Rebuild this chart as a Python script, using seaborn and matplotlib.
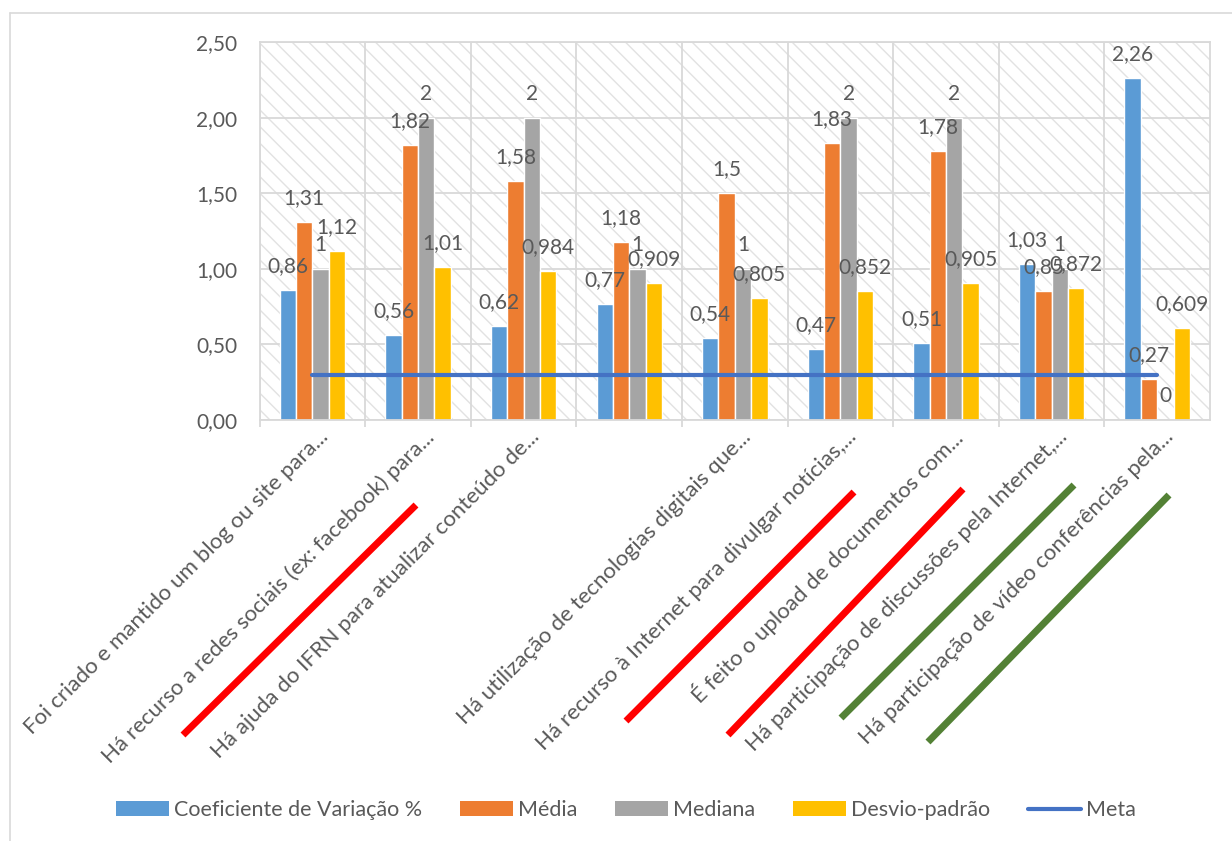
import numpy as np
import pandas as pd
import matplotlib
matplotlib.use("Agg")
import matplotlib.pyplot as plt
import matplotlib.transforms as mtransforms
from matplotlib.lines import Line2D
from matplotlib.patches import Rectangle, Patch
from matplotlib.ticker import FuncFormatter
import seaborn as sns

# ---- data -------------------------------------------------------------
questions = [
    "Foi criado e mantido um blog ou site para...",
    "Há recurso a redes sociais (ex: facebook) para...",
    "Há ajuda do IFRN para atualizar conteúdo de...",
    "",
    "Há utilização de tecnologias digitais que...",
    "Há recurso à Internet para divulgar notícias,...",
    "É feito o upload de documentos com...",
    "Há participação de discussões pela Internet,...",
    "Há participação de vídeo conferências pela...",
]
series = ["Coeficiente de Variação %", "Média", "Mediana", "Desvio-padrão"]

coef_variacao = [0.86, 0.56, 0.62, 0.77, 0.54, 0.47, 0.51, 1.03, 2.26]
media = [1.31, 1.82, 1.58, 1.18, 1.5, 1.83, 1.78, 0.85, 0.27]
mediana = [1, 2, 2, 1, 1, 2, 2, 1, 0]
desvio_padrao = [1.12, 1.01, 0.984, 0.909, 0.805, 0.852, 0.905, 0.872, 0.609]
meta = [0.3] * 9

y_ticks = [0.0, 0.5, 1.0, 1.5, 2.0, 2.5]

# ---- style ------------------------------------------------------------
bar_colors = ["#5B9BD5", "#ED7D31", "#A5A5A5", "#FFC000"]
meta_color = "#4472C4"
text_color = "#595959"
grid_color = "#D9D9D9"

sns.set_theme(style="white")
plt.rcParams["font.family"] = ["Lato", "DejaVu Sans"]
plt.rcParams["hatch.linewidth"] = 1.0

W, H = 1232, 841
fig = plt.figure(figsize=(W / 100, H / 100), dpi=100)
ax = fig.add_axes([259.7 / W, 1 - 420 / H, (1210 - 259.7) / W, (420 - 42) / H])

# hatched plot-area background
ax.set_facecolor("white")
ax.add_patch(Rectangle((0, 0), 1, 1, transform=ax.transAxes, facecolor="white",
                       edgecolor="#E2E2E2", hatch="\\\\", lw=0, zorder=0))

df = pd.DataFrame({
    "Questão": np.tile(questions, len(series)),
    "Medida": np.repeat(series, len(questions)),
    "Valor": np.concatenate([coef_variacao, media, mediana, desvio_padrao]),
})

sns.barplot(data=df, x="Questão", y="Valor", hue="Medida", order=questions,
            hue_order=series, palette=bar_colors, width=0.62, gap=0,
            saturation=1, errorbar=None, legend=False, ax=ax, zorder=2)

ax.plot(np.arange(len(questions)), meta, color=meta_color, lw=3,
        solid_capstyle="round", zorder=3)


def fmt(v):
    return f"{v:g}".replace(".", ",")


for container, vals in zip(ax.containers, [coef_variacao, media, mediana, desvio_padrao]):
    ax.bar_label(container, labels=[fmt(v) for v in vals], padding=10,
                 fontsize=15, color=text_color, zorder=4)

# ---- axes -------------------------------------------------------------
ax.set_ylim(0, 2.5)
ax.set_xlim(-0.5, len(questions) - 0.5)
ax.set_yticks(y_ticks)
ax.yaxis.set_major_formatter(FuncFormatter(lambda v, p: f"{v:.2f}".replace(".", ",")))
ax.set_xlabel("")
ax.set_ylabel("")

ax.set_axisbelow(True)
ax.grid(axis="y", color=grid_color, lw=1.3)
ax.set_xticks(np.arange(len(questions)) - 0.5, minor=True)
ax.grid(axis="x", which="minor", color=grid_color, lw=1.3)
ax.grid(axis="x", which="major", visible=False)
for s in ax.spines.values():
    s.set_color(grid_color)
    s.set_linewidth(1.3)
    s.set_visible(True)

ax.tick_params(axis="y", length=0, pad=16, labelsize=15, labelcolor=text_color)
ax.tick_params(axis="x", which="major", length=0, labelsize=16, labelcolor=text_color)
ax.tick_params(axis="x", which="minor", length=5, width=1.3, color=grid_color,
               direction="out", bottom=True)

ax.set_xticks(np.arange(len(questions)))
ax.set_xticklabels(questions, rotation=45, ha="right", va="center",
                   rotation_mode="anchor")
shift = mtransforms.ScaledTranslation(13 / 100, -9 / 100, fig.dpi_scale_trans)
for lbl in ax.get_xticklabels():
    lbl.set_transform(lbl.get_transform() + shift)

# ---- legend -----------------------------------------------------------
handles = [Patch(facecolor=c, edgecolor="none") for c in bar_colors]
handles.append(Line2D([0], [0], color=meta_color, lw=3, solid_capstyle="round"))
leg = fig.legend(handles, series + ["Meta"], loc="center",
                 bbox_to_anchor=(626 / W, 1 - 810 / H), ncol=5, frameon=False,
                 fontsize=15.5, handlelength=2.45, handleheight=0.65,
                 handletextpad=0.25, columnspacing=1.75)
for t in leg.get_texts():
    t.set_color(text_color)

# ---- chart-area border ------------------------------------------------
fig.add_artist(Line2D([10 / W, 10 / W], [0, 1 - 13 / H], color=grid_color, lw=1.2))
fig.add_artist(Line2D([10 / W, 1], [1 - 13 / H, 1 - 13 / H], color=grid_color, lw=1.2))

# ---- highlight strokes under the category labels ----------------------
red, green = "#FF0000", "#538135"
highlight_strokes = [
    ((183, 735), (416, 505), red),
    ((626, 721), (854, 492), red),
    ((728, 735), (963, 489), red),
    ((841, 718), (1074, 485), green),
    ((928, 742), (1169, 495), green),
]
for (x0, y0), (x1, y1), c in highlight_strokes:
    fig.add_artist(Line2D([x0 / W, x1 / W], [1 - y0 / H, 1 - y1 / H],
                          color=c, lw=5, solid_capstyle="butt"))

fig.savefig("out.png", dpi=100)
